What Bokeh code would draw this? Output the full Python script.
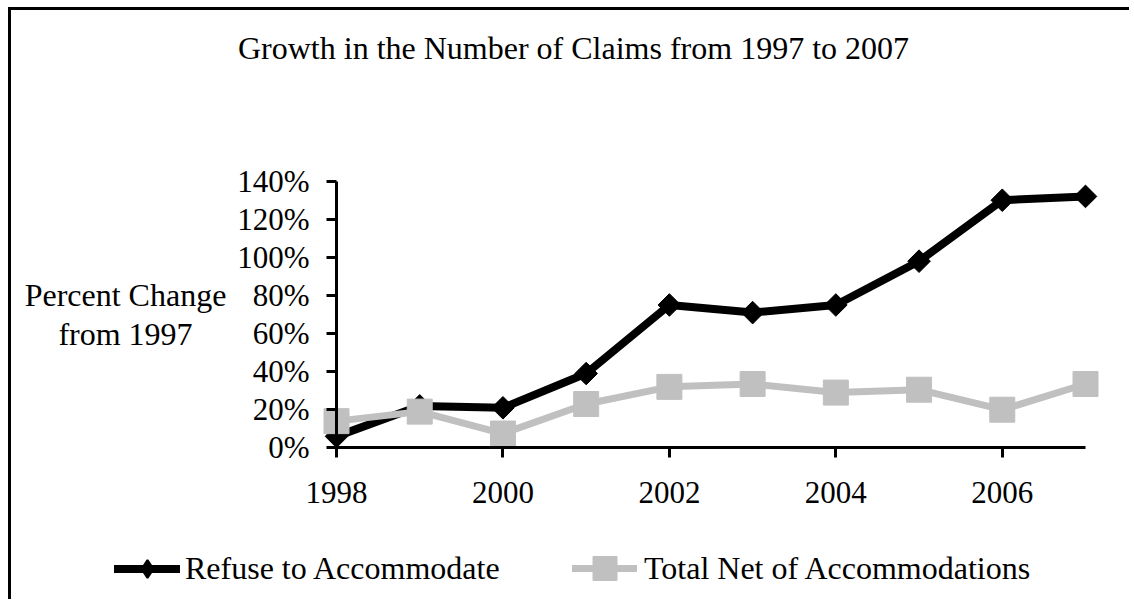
import math
from bokeh.plotting import figure
from bokeh.models import (LinearAxis, FixedTicker, NumeralTickFormatter, Range1d,
                          Legend, LegendItem, Label)
from bokeh.embed import file_html
from bokeh.resources import INLINE

# ---- data ----
years = [1998, 1999, 2000, 2001, 2002, 2003, 2004, 2005, 2006, 2007]
refuse = [0.06, 0.22, 0.21, 0.39, 0.75, 0.71, 0.75, 0.98, 1.30, 1.32]
total_net = [0.14, 0.19, 0.075, 0.23, 0.32, 0.335, 0.29, 0.305, 0.20, 0.335]
series_names = ["Refuse to Accommodate", "Total Net of Accommodations"]
x_ticks = [1998, 2000, 2002, 2004, 2006]
x_tick_labels = ["1998", "2000", "2002", "2004", "2006"]
y_ticks = [0, 0.2, 0.4, 0.6, 0.8, 1.0, 1.2, 1.4]
title_text = "Growth in the Number of Claims from 1997 to 2007"
y_label_lines = ["Percent Change", "from 1997"]

FONT = "Liberation Serif"
FS_TICK = "31px"
FS = "32px"
GRAY = "#C0C0C0"

# ---- layout (pixels) ----
OX, OY = 11, 10                   # canvas origin on the page (after margin + border)
W, H = 1121, 592
X0_PX, X1_PX = 336.0 - OX, 1085.0 - OX      # first / last year
Y0_PX, Y1_PX = 447.3 - OY, 180.7 - OY       # 0% / 140%
xs = (X1_PX - X0_PX) / (years[-1] - years[0])
ys = (Y0_PX - Y1_PX) / (y_ticks[-1] - y_ticks[0])
x_start = years[0] - X0_PX / xs
x_end = x_start + W / xs
y_end = y_ticks[-1] + Y1_PX / ys
y_start = y_ticks[0] - (H - Y0_PX) / ys

p = figure(width=W, height=H, output_backend="svg", toolbar_location=None,
           x_range=Range1d(x_start, x_end), y_range=Range1d(y_start, y_end),
           x_axis_location=None, y_axis_location=None,
           min_border_left=0, min_border_right=0, min_border_top=0, min_border_bottom=0)
# outer chart border: left and top edges (right/bottom lie beyond the window)
p.styles = {"margin-left": "8px", "margin-top": "7px",
            "border-left": "3px solid black", "border-top": "3px solid black"}
p.outline_line_color = None
p.xgrid.visible = False
p.ygrid.visible = False
p.background_fill_color = "white"
p.border_fill_color = "white"

def style_axis(ax):
    ax.axis_line_width = 3
    ax.axis_line_color = "black"
    ax.major_tick_line_width = 3
    ax.major_tick_line_color = "black"
    ax.major_tick_in = 0
    ax.major_tick_out = 10
    ax.minor_tick_line_color = None
    ax.major_label_text_font = FONT
    ax.major_label_text_font_size = FS_TICK
    ax.major_label_text_color = "black"

xax = LinearAxis(ticker=FixedTicker(ticks=x_ticks), fixed_location=0, bounds=(years[0], years[-1]))
xax.major_label_overrides = {t: l for t, l in zip(x_ticks, x_tick_labels)}
style_axis(xax)
xax.major_label_standoff = 24
p.add_layout(xax, "below")

yax = LinearAxis(ticker=FixedTicker(ticks=y_ticks), fixed_location=years[0],
                 bounds=(y_ticks[0], y_ticks[-1]),
                 formatter=NumeralTickFormatter(format="0%"))
style_axis(yax)
yax.major_label_standoff = 17
p.add_layout(yax, "left")

l1 = p.line(years, refuse, line_color="black", line_width=8, line_join="round", line_cap="round")
# diamond used for the key; on the chart it sits hidden under the rotated-square markers
s1_key = p.scatter(years, refuse, marker="diamond", size=14, fill_color="black",
                   line_color="black", line_width=2)
s1 = p.scatter(years, refuse, marker="square", angle=math.pi / 4, size=16,
               fill_color="black", line_color="black")
l2 = p.line(years, total_net, line_color=GRAY, line_width=7, line_join="round", line_cap="round")
s2 = p.scatter(years, total_net, marker="square", size=25, fill_color=GRAY, line_color=GRAY)

def make_legend(item, loc, gw, gh, standoff):
    return Legend(items=[item], location=loc, orientation="horizontal",
                  glyph_width=gw, glyph_height=gh, label_height=gh, label_standoff=standoff,
                  padding=0, margin=0, spacing=0, border_line_color=None,
                  background_fill_alpha=0, label_text_font=FONT, label_text_font_size=FS,
                  label_text_color="black")

leg1 = make_legend(LegendItem(label=series_names[0], renderers=[l1, s1_key]),
                   (114 - OX, H - (590.5 - OY)), 66, 45, 5)
leg2 = make_legend(LegendItem(label=series_names[1], renderers=[l2, s2]),
                   (572 - OX, H - (598 - OY)), 65, 60, 7)
p.add_layout(leg1)
p.add_layout(leg2)

p.add_layout(Label(x=years[0], y=y_ticks[-1], x_offset=237, y_offset=180.7 - 47.5, text=title_text,
                   text_align="center", text_baseline="middle",
                   text_font=FONT, text_font_size=FS, text_color="black"))
p.add_layout(Label(x=years[0], y=y_ticks[4], x_offset=-211, text=y_label_lines[0],
                   text_align="center", text_baseline="middle",
                   text_font=FONT, text_font_size=FS, text_color="black"))
p.add_layout(Label(x=years[0], y=y_ticks[3], x_offset=-211, text=y_label_lines[1],
                   text_align="center", text_baseline="middle",
                   text_font=FONT, text_font_size=FS, text_color="black"))

open("out.html", "w").write(file_html(p, INLINE))
